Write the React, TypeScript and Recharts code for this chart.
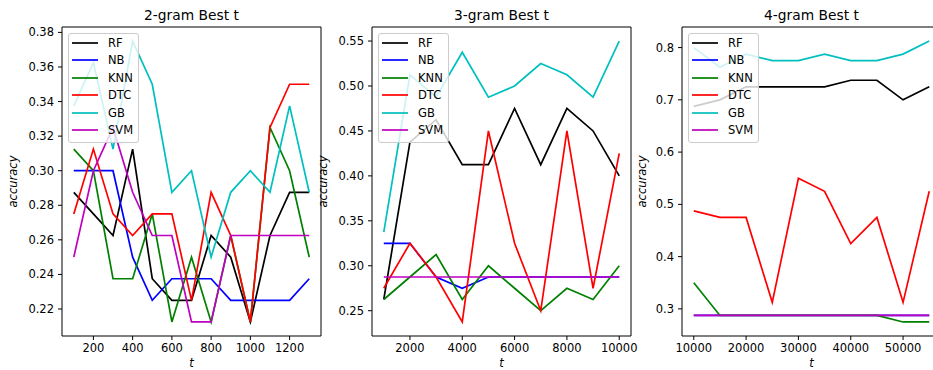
import { LineChart, Line, XAxis, YAxis, ReferenceArea } from "recharts";

const FONT = "'DejaVu Sans', sans-serif";

const models = ["RF", "NB", "KNN", "DTC", "GB", "SVM"];
const modelColors = ["#000000", "#0000ff", "#008000", "#ff0000", "#00bfbf", "#bf00bf"];

// 2-gram
const t2 = [100, 200, 300, 400, 500, 600, 700, 800, 900, 1000, 1100, 1200, 1300];
const rf2 = [0.2875, 0.275, 0.2625, 0.3125, 0.2375, 0.225, 0.225, 0.2625, 0.25, 0.2125, 0.2625, 0.2875, 0.2875];
const nb2 = [0.3, 0.3, 0.3, 0.25, 0.225, 0.2375, 0.2375, 0.2375, 0.225, 0.225, 0.225, 0.225, 0.2375];
const knn2 = [0.3125, 0.3, 0.2375, 0.2375, 0.275, 0.2125, 0.25, 0.2125, 0.2625, 0.2125, 0.325, 0.3, 0.25];
const dtc2 = [0.275, 0.3125, 0.275, 0.2625, 0.275, 0.275, 0.225, 0.2875, 0.2625, 0.2125, 0.325, 0.35, 0.35];
const gb2 = [0.3375, 0.3625, 0.3125, 0.375, 0.35, 0.2875, 0.3, 0.25, 0.2875, 0.3, 0.2875, 0.3375, 0.2875];
const svm2 = [0.25, 0.3, 0.325, 0.2875, 0.2625, 0.2625, 0.2125, 0.2125, 0.2625, 0.2625, 0.2625, 0.2625, 0.2625];
const xTicks2 = [200, 400, 600, 800, 1000, 1200];
const yTicks2 = [0.22, 0.24, 0.26, 0.28, 0.3, 0.32, 0.34, 0.36, 0.38];

// 3-gram
const t3 = [1000, 2000, 3000, 4000, 5000, 6000, 7000, 8000, 9000, 10000];
const rf3 = [0.2625, 0.4375, 0.4625, 0.4125, 0.4125, 0.475, 0.4125, 0.475, 0.45, 0.4];
const nb3 = [0.325, 0.325, 0.2875, 0.275, 0.2875, 0.2875, 0.2875, 0.2875, 0.2875, 0.2875];
const knn3 = [0.2625, 0.2875, 0.3125, 0.2625, 0.3, 0.275, 0.25, 0.275, 0.2625, 0.3];
const dtc3 = [0.275, 0.325, 0.2875, 0.2375, 0.45, 0.325, 0.25, 0.45, 0.275, 0.425];
const gb3 = [0.3375, 0.5125, 0.4875, 0.5375, 0.4875, 0.5, 0.525, 0.5125, 0.4875, 0.55];
const svm3 = [0.2875, 0.2875, 0.2875, 0.2875, 0.2875, 0.2875, 0.2875, 0.2875, 0.2875, 0.2875];
const xTicks3 = [2000, 4000, 6000, 8000, 10000];
const yTicks3 = [0.25, 0.3, 0.35, 0.4, 0.45, 0.5, 0.55];

// 4-gram
const t4 = [10000, 15000, 20000, 25000, 30000, 35000, 40000, 45000, 50000, 55000];
const rf4 = [0.6875, 0.7, 0.725, 0.725, 0.725, 0.725, 0.7375, 0.7375, 0.7, 0.725];
const nb4 = [0.2875, 0.2875, 0.2875, 0.2875, 0.2875, 0.2875, 0.2875, 0.2875, 0.2875, 0.2875];
const knn4 = [0.35, 0.2875, 0.2875, 0.2875, 0.2875, 0.2875, 0.2875, 0.2875, 0.275, 0.275];
const dtc4 = [0.4875, 0.475, 0.475, 0.3125, 0.55, 0.525, 0.425, 0.475, 0.3125, 0.525];
const gb4 = [0.8, 0.7625, 0.7875, 0.775, 0.775, 0.7875, 0.775, 0.775, 0.7875, 0.8125];
const svm4 = [0.2875, 0.2875, 0.2875, 0.2875, 0.2875, 0.2875, 0.2875, 0.2875, 0.2875, 0.2875];
const xTicks4 = [10000, 20000, 30000, 40000, 50000];
const yTicks4 = [0.3, 0.4, 0.5, 0.6, 0.7, 0.8];

// matplotlib-like 5% margins
const pad = (vals: number[]): [number, number] => {
  const lo = Math.min(...vals);
  const hi = Math.max(...vals);
  const m = (hi - lo) * 0.05;
  return [lo - m, hi + m];
};

const AXIS_W = 62;
const PLOT_W = 259;
const RIGHT = 30;
const TOP = 27;
const X_H = 34;
const H = 370;

const LegendBox = () => (
  <div
    style={{
      position: "absolute",
      left: AXIS_W + 6,
      top: 33,
      width: 71,
      boxSizing: "border-box",
      background: "rgba(255,255,255,0.8)",
      border: "1px solid #cccccc",
      borderRadius: 3,
      padding: "0 0 3px 3px",
      fontFamily: FONT,
      fontSize: 11.5,
      color: "#000",
    }}
  >
    {models.map((m, k) => (
      <div key={m} style={{ display: "flex", alignItems: "center", height: 17.5 }}>
        <svg width={26} height={4} style={{ display: "block" }}>
          <line x1={0} y1={2} x2={26} y2={2} stroke={modelColors[k]} strokeWidth={1.7} />
        </svg>
        <span style={{ marginLeft: 10 }}>{m}</span>
      </div>
    ))}
  </div>
);

type PanelProps = {
  title: string;
  t: number[];
  series: number[][];
  xTicks: number[];
  yTicks: number[];
  digits: number;
  left: number;
  labelGap: number;
};

const Panel = ({ title, t, series, xTicks, yTicks, digits, left, labelGap }: PanelProps) => {
  const data = t.map((v, i) => {
    const row: any = { t: v };
    models.forEach((m, k) => (row[m] = series[k][i]));
    return row;
  });
  const xDom = pad(t);
  const yDom = pad(series.flat());
  const tickStyle = { fill: "#000", fontSize: 11.5, fontFamily: FONT };
  const W = AXIS_W + PLOT_W + RIGHT;
  return (
    <div style={{ position: "absolute", left: left, top: 0, width: W, height: H }}>
      <div
        style={{
          position: "absolute",
          left: AXIS_W,
          top: 6,
          width: PLOT_W,
          textAlign: "center",
          fontFamily: FONT,
          fontSize: 13.8,
          lineHeight: "18px",
          color: "#000",
        }}
      >
        {title}
      </div>
      <LineChart width={W} height={H} data={data} margin={{ top: TOP, right: RIGHT, bottom: 0, left: 0 }}>
        <XAxis
          dataKey="t"
          type="number"
          domain={xDom}
          ticks={xTicks}
          height={X_H}
          axisLine={false}
          tickLine={{ stroke: "#000" }}
          tickSize={4}
          tickMargin={4}
          tick={tickStyle}
          interval={0}
          label={{ value: "t", position: "insideBottom", offset: 3, style: { fontStyle: "italic", fill: "#000", fontSize: 11.5, fontFamily: FONT } }}
        />
        <YAxis
          type="number"
          domain={yDom}
          ticks={yTicks}
          width={AXIS_W}
          axisLine={false}
          tickLine={{ stroke: "#000" }}
          tickSize={4}
          tickMargin={4}
          tick={tickStyle}
          interval={0}
          tickFormatter={(v: number) => v.toFixed(digits)}
          label={{
            content: (p: any) => {
              const vb = p.viewBox || { y: TOP, height: H - TOP - X_H };
              const x = AXIS_W - labelGap;
              const y = vb.y + vb.height / 2;
              return (
                <text
                  x={x}
                  y={y}
                  transform={`rotate(-90, ${x}, ${y})`}
                  textAnchor="middle"
                  dominantBaseline="central"
                  style={{ fontStyle: "italic", fill: "#000", fontSize: 11.5, fontFamily: FONT }}
                >
                  accuracy
                </text>
              );
            },
          }}
        />
        {models.map((m, k) => (
          <Line
            key={m}
            type="linear"
            dataKey={m}
            name={m}
            stroke={modelColors[k]}
            strokeWidth={1.7}
            dot={false}
            activeDot={false}
            isAnimationActive={false}
          />
        ))}
        <ReferenceArea x1={xDom[0]} x2={xDom[1]} y1={yDom[0]} y2={yDom[1]} fill="none" stroke="#000" strokeWidth={1} />
      </LineChart>
      <LegendBox />
    </div>
  );
};

export default function App() {
  return (
    <div
      style={{
        position: "absolute",
        left: 0,
        top: 0,
        width: 933,
        height: 370,
        overflow: "hidden",
        background: "#fff",
        fontFamily: FONT,
      }}
    >
      <Panel title="2-gram Best t" t={t2} series={[rf2, nb2, knn2, dtc2, gb2, svm2]} xTicks={xTicks2} yTicks={yTicks2} digits={2} left={0} labelGap={49} />
      <Panel title="3-gram Best t" t={t3} series={[rf3, nb3, knn3, dtc3, gb3, svm3]} xTicks={xTicks3} yTicks={yTicks3} digits={2} left={310} labelGap={49} />
      <Panel title="4-gram Best t" t={t4} series={[rf4, nb4, knn4, dtc4, gb4, svm4]} xTicks={xTicks4} yTicks={yTicks4} digits={1} left={620} labelGap={40} />
    </div>
  );
}
